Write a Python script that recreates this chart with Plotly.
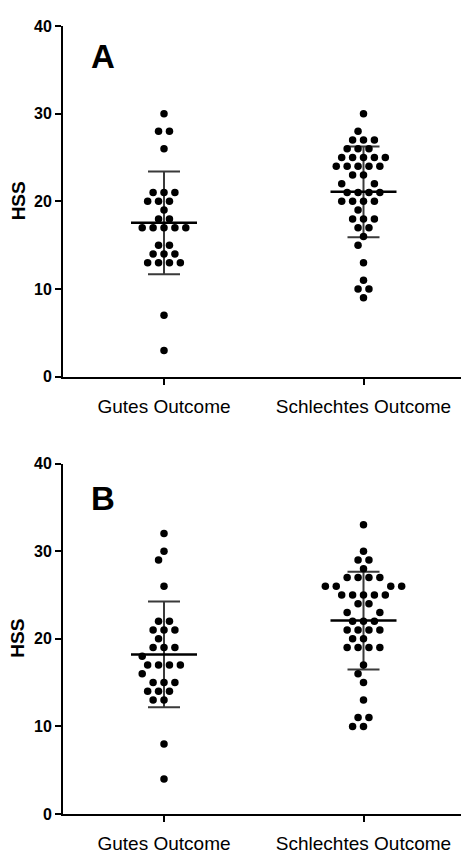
import numpy as np
import plotly.graph_objects as go
from collections import Counter

# ---------------- data ----------------
categories = ["Gutes Outcome", "Schlechtes Outcome"]
y_ticks = [0, 10, 20, 30, 40]
panel_labels = ["A", "B"]
y_title = "HSS"

gutes_A = [30, 28, 28, 26, 21, 21, 21, 20, 20, 20, 19, 18, 18,
           17, 17, 17, 17, 17, 15, 15, 14, 14, 14, 13, 13, 13, 13, 7, 3]
schlecht_A = [30, 28, 27, 27, 27, 26, 26, 26, 25, 25, 25, 25, 25,
              24, 24, 24, 24, 24, 23, 23, 22, 22, 21, 21, 21, 21,
              20, 20, 20, 20, 19, 18, 18, 18, 17, 17, 16, 15, 13, 11, 10, 10, 9]
gutes_B = [32, 30, 29, 26, 22, 22, 21, 21, 21, 20, 19, 19, 19, 18,
           17, 17, 17, 17, 16, 15, 15, 15, 14, 14, 14, 13, 13, 8, 4]
schlecht_B = [33, 30, 29, 29, 28, 27, 27, 27, 27, 26, 26, 26, 26,
              25, 25, 25, 25, 25, 24, 24, 23, 23, 22, 22, 22,
              21, 21, 21, 21, 20, 20, 19, 19, 19, 19, 17, 16, 15, 13, 11, 11, 10, 10]

panels = [[gutes_A, schlecht_A], [gutes_B, schlecht_B]]

# ---------------- geometry ----------------
W, H = 461, 853
X_LEFT_PX = 63
PX_PER_CAT = 199.5
CAT0_PX = 164
Y_PX_PER_UNIT = 8.77
x_range = [(X_LEFT_PX - CAT0_PX) / PX_PER_CAT, (W - CAT0_PX) / PX_PER_CAT]
domains = [[(H - 376.7) / H, (H - 26) / H], [(H - 814) / H, (H - 463.5) / H]]


def swarm(values, d_px=10.9, D=10.0):
    counts = Counter(values)
    groups = sorted(counts.items(), key=lambda kv: (-kv[1], -kv[0]))
    placed = []
    result = {}
    cands = sorted({sg * s * d_px / 2 for s in range(0, 40) for sg in (-1, 1)},
                   key=lambda x: (abs(x), x))
    for v, n in groups:
        y = v * Y_PX_PER_UNIT

        def ok(x, extra):
            for (px, py) in placed + extra:
                if (px - x) ** 2 + (py - y) ** 2 < D * D - 1e-9:
                    return False
            return True

        centered = [(i - (n - 1) / 2) * d_px for i in range(n)]
        if all(ok(x, []) for x in centered):
            xs = centered
        else:
            xs = []
            for c in cands:
                if len(xs) == n:
                    break
                if ok(c, [(x, y) for x in xs]):
                    xs.append(c)
        placed += [(x, y) for x in xs]
        result[v] = list(xs)
    out = []
    used = {k: 0 for k in result}
    for v in values:
        out.append(result[v][used[v]] / PX_PER_CAT)
        used[v] += 1
    return out


fig = go.Figure()
font_family = "Liberation Sans, Arial, sans-serif"

for p, groups in enumerate(panels):
    xa = "x" if p == 0 else "x2"
    ya = "y" if p == 0 else "y2"
    for ci, vals in enumerate(groups):
        arr = np.array(vals, dtype=float)
        mean = arr.mean()
        sd = arr.std(ddof=1)
        # SD whiskers
        fig.add_trace(go.Scatter(
            x=[ci], y=[mean], mode="markers", xaxis=xa, yaxis=ya,
            marker=dict(size=1, color="rgba(0,0,0,0)"),
            error_y=dict(type="data", array=[sd], visible=True,
                         color="#3a3a3a", thickness=2, width=16),
            showlegend=False, hoverinfo="skip"))
        # mean line
        fig.add_trace(go.Scatter(
            x=[ci], y=[mean], mode="markers", xaxis=xa, yaxis=ya,
            marker=dict(size=1, color="rgba(0,0,0,0)"),
            error_x=dict(type="data", array=[33 / PX_PER_CAT], visible=True,
                         color="black", thickness=2.5, width=0),
            showlegend=False, hoverinfo="skip"))
        offs = swarm(vals)
        fig.add_trace(go.Scatter(
            x=[ci + o for o in offs], y=vals, mode="markers", xaxis=xa, yaxis=ya,
            marker=dict(size=7.5, color="black", line=dict(width=0)),
            showlegend=False))

axis_common = dict(showline=True, linecolor="black", linewidth=2,
                   ticks="outside", tickcolor="black", tickwidth=2, ticklen=6,
                   showgrid=False, zeroline=False, automargin=False)

layout = dict(
    width=W, height=H,
    margin=dict(l=0, r=0, t=0, b=0, autoexpand=False),
    paper_bgcolor="white", plot_bgcolor="white",
    font=dict(family=font_family, color="black"),
    annotations=[],
)
for p in range(2):
    sfx = "" if p == 0 else "2"
    layout["xaxis" + sfx] = dict(
        axis_common, domain=[X_LEFT_PX / W, 1], range=x_range,
        anchor="y" + sfx, tickvals=[0, 1], ticktext=categories,
        tickfont=dict(size=19, family=font_family, color="black"),
        ticklabelstandoff=5)
    layout["yaxis" + sfx] = dict(
        axis_common, domain=domains[p], range=[0, 40],
        anchor="x" + sfx, tickvals=y_ticks,
        tickfont=dict(size=16, family=font_family, color="black", weight="bold"))
    layout["annotations"].append(dict(
        text=y_title, textangle=-90, xref="paper", yref="y" + sfx,
        x=18 / W, y=20, xanchor="center", yanchor="middle", showarrow=False,
        font=dict(size=19, family=font_family, color="black", weight="bold")))
    ypix = 56 if p == 0 else 498.5
    layout["annotations"].append(dict(
        text=panel_labels[p], xref="paper", yref="paper",
        x=102.5 / W, y=(H - ypix) / H, xanchor="center", yanchor="middle",
        showarrow=False,
        font=dict(size=33, family=font_family, color="black", weight="bold")))

fig.update_layout(**layout)
fig.write_html("out.html", config={"displayModeBar": False},
               post_script="document.body.style.margin='0';document.body.style.overflow='hidden';")
